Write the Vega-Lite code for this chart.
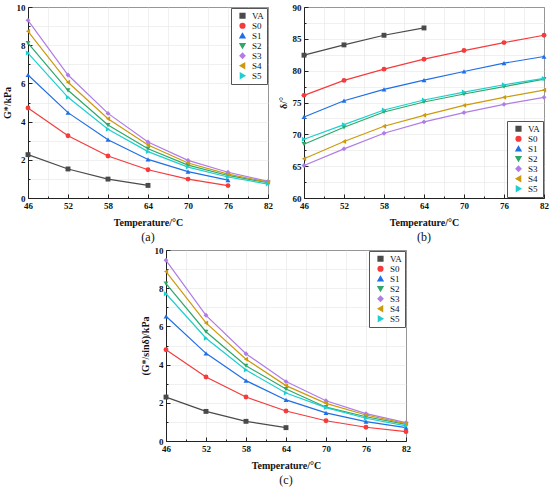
{
  "$schema": "https://vega.github.io/schema/vega-lite/v6.json",
  "background": "white",
  "padding": {"left": 1, "top": 2, "right": 0, "bottom": 0},
  "datasets": {
    "rows": [
      {"Temperature": 46, "Sample": "VA", "G": 2.27, "Delta": 82.43, "GS": 2.30},
      {"Temperature": 52, "Sample": "VA", "G": 1.52, "Delta": 84.05, "GS": 1.55},
      {"Temperature": 58, "Sample": "VA", "G": 0.99, "Delta": 85.56, "GS": 1.03},
      {"Temperature": 64, "Sample": "VA", "G": 0.66, "Delta": 86.71, "GS": 0.70},
      {"Temperature": 46, "Sample": "S0", "G": 4.71, "Delta": 76.12, "GS": 4.78},
      {"Temperature": 52, "Sample": "S0", "G": 3.26, "Delta": 78.47, "GS": 3.35},
      {"Temperature": 58, "Sample": "S0", "G": 2.20, "Delta": 80.24, "GS": 2.30},
      {"Temperature": 64, "Sample": "S0", "G": 1.48, "Delta": 81.80, "GS": 1.57},
      {"Temperature": 70, "Sample": "S0", "G": 0.99, "Delta": 83.16, "GS": 1.06},
      {"Temperature": 76, "Sample": "S0", "G": 0.65, "Delta": 84.41, "GS": 0.72},
      {"Temperature": 82, "Sample": "S0", "G": null, "Delta": 85.56, "GS": 0.49},
      {"Temperature": 46, "Sample": "S1", "G": 6.44, "Delta": 72.73, "GS": 6.53},
      {"Temperature": 52, "Sample": "S1", "G": 4.47, "Delta": 75.28, "GS": 4.59},
      {"Temperature": 58, "Sample": "S1", "G": 3.05, "Delta": 77.06, "GS": 3.16},
      {"Temperature": 64, "Sample": "S1", "G": 2.02, "Delta": 78.52, "GS": 2.15},
      {"Temperature": 70, "Sample": "S1", "G": 1.38, "Delta": 79.87, "GS": 1.47},
      {"Temperature": 76, "Sample": "S1", "G": 0.94, "Delta": 81.18, "GS": 1.01},
      {"Temperature": 82, "Sample": "S1", "G": null, "Delta": 82.22, "GS": 0.70},
      {"Temperature": 46, "Sample": "S2", "G": 8.11, "Delta": 68.45, "GS": 8.24},
      {"Temperature": 52, "Sample": "S2", "G": 5.64, "Delta": 71.11, "GS": 5.72},
      {"Temperature": 58, "Sample": "S2", "G": 3.82, "Delta": 73.51, "GS": 3.94},
      {"Temperature": 64, "Sample": "S2", "G": 2.58, "Delta": 75.08, "GS": 2.72},
      {"Temperature": 70, "Sample": "S2", "G": 1.72, "Delta": 76.33, "GS": 1.77},
      {"Temperature": 76, "Sample": "S2", "G": 1.18, "Delta": 77.48, "GS": 1.27},
      {"Temperature": 82, "Sample": "S2", "G": 0.80, "Delta": 78.68, "GS": 0.87},
      {"Temperature": 46, "Sample": "S3", "G": 9.30, "Delta": 65.11, "GS": 9.46},
      {"Temperature": 52, "Sample": "S3", "G": 6.44, "Delta": 67.72, "GS": 6.58},
      {"Temperature": 58, "Sample": "S3", "G": 4.43, "Delta": 70.17, "GS": 4.57},
      {"Temperature": 64, "Sample": "S3", "G": 2.93, "Delta": 71.95, "GS": 3.11},
      {"Temperature": 70, "Sample": "S3", "G": 1.97, "Delta": 73.41, "GS": 2.11},
      {"Temperature": 76, "Sample": "S3", "G": 1.35, "Delta": 74.71, "GS": 1.43},
      {"Temperature": 82, "Sample": "S3", "G": 0.87, "Delta": 75.81, "GS": 0.96},
      {"Temperature": 46, "Sample": "S4", "G": 8.73, "Delta": 66.16, "GS": 8.87},
      {"Temperature": 52, "Sample": "S4", "G": 6.06, "Delta": 68.87, "GS": 6.18},
      {"Temperature": 58, "Sample": "S4", "G": 4.15, "Delta": 71.27, "GS": 4.28},
      {"Temperature": 64, "Sample": "S4", "G": 2.77, "Delta": 72.99, "GS": 2.90},
      {"Temperature": 70, "Sample": "S4", "G": 1.83, "Delta": 74.55, "GS": 1.97},
      {"Temperature": 76, "Sample": "S4", "G": 1.25, "Delta": 75.81, "GS": 1.36},
      {"Temperature": 82, "Sample": "S4", "G": 0.83, "Delta": 76.95, "GS": 0.91},
      {"Temperature": 46, "Sample": "S5", "G": 7.59, "Delta": 69.23, "GS": 7.71},
      {"Temperature": 52, "Sample": "S5", "G": 5.27, "Delta": 71.53, "GS": 5.38},
      {"Temperature": 58, "Sample": "S5", "G": 3.60, "Delta": 73.82, "GS": 3.72},
      {"Temperature": 64, "Sample": "S5", "G": 2.43, "Delta": 75.39, "GS": 2.51},
      {"Temperature": 70, "Sample": "S5", "G": 1.62, "Delta": 76.64, "GS": 1.75},
      {"Temperature": 76, "Sample": "S5", "G": 1.10, "Delta": 77.79, "GS": 1.19},
      {"Temperature": 82, "Sample": "S5", "G": 0.73, "Delta": 78.78, "GS": 0.79}
    ]
  },
  "spacing": 1,
  "center": true,
  "resolve": {
    "scale": {"color": "independent", "shape": "independent"},
    "legend": {"color": "independent", "shape": "independent"}
  },
  "vconcat": [
    {
      "spacing": 4,
      "resolve": {
        "scale": {"color": "independent", "shape": "independent"},
        "legend": {"color": "independent", "shape": "independent"}
      },
      "hconcat": [
        {
          "width": 240,
          "height": 191,
          "data": {"name": "rows"},
          "title": {"text": "(a)", "orient": "bottom"},
          "mark": {"type": "line", "strokeWidth": 1.2, "point": {"filled": true, "size": 24, "opacity": 1}},
          "encoding": {
            "x": {
              "field": "Temperature", "type": "quantitative", "title": "Temperature/°C",
              "scale": {"domain": [46, 82], "nice": false},
              "axis": {
                "values": [46, 49, 52, 55, 58, 61, 64, 67, 70, 73, 76, 79, 82],
                "labelExpr": "(datum.value - 46) % 6 == 0 ? datum.label : ''",
                "tickSize": {"condition": {"test": "(datum.value - 46) % 6 == 0", "value": -4}, "value": -2}
              }
            },
            "y": {
              "field": "G", "type": "quantitative", "title": "G*/kPa",
              "scale": {"domain": [0, 10], "nice": false},
              "axis": {
                "values": [0, 1, 2, 3, 4, 5, 6, 7, 8, 9, 10],
                "labelExpr": "datum.value % 2 == 0 ? datum.label : ''",
                "tickSize": {"condition": {"test": "datum.value % 2 == 0", "value": -4}, "value": -2}
              }
            },
            "color": {
              "field": "Sample", "type": "nominal", "title": null,
              "scale": {"domain": ["VA", "S0", "S1", "S2", "S3", "S4", "S5"], "range": ["#4a4a4a", "#f53b3b", "#1f6fe6", "#2ea86a", "#b07ce6", "#cc9a0a", "#1ecfcf"]},
              "legend": {"orient": "top-right"}
            },
            "shape": {
              "field": "Sample", "type": "nominal", "title": null,
              "scale": {"domain": ["VA", "S0", "S1", "S2", "S3", "S4", "S5"], "range": ["square", "circle", "triangle-up", "triangle-down", "diamond", "triangle-left", "triangle-right"]},
              "legend": {"orient": "top-right"}
            }
          }
        },
        {
          "width": 240,
          "height": 191,
          "data": {"name": "rows"},
          "title": {"text": "(b)", "orient": "bottom"},
          "mark": {"type": "line", "strokeWidth": 1.2, "point": {"filled": true, "size": 24, "opacity": 1}},
          "encoding": {
            "x": {
              "field": "Temperature", "type": "quantitative", "title": "Temperature/°C",
              "scale": {"domain": [46, 82], "nice": false},
              "axis": {
                "values": [46, 49, 52, 55, 58, 61, 64, 67, 70, 73, 76, 79, 82],
                "labelExpr": "(datum.value - 46) % 6 == 0 ? datum.label : ''",
                "tickSize": {"condition": {"test": "(datum.value - 46) % 6 == 0", "value": -4}, "value": -2}
              }
            },
            "y": {
              "field": "Delta", "type": "quantitative", "title": "δ/°",
              "scale": {"domain": [60, 90], "nice": false},
              "axis": {
                "values": [60, 62.5, 65, 67.5, 70, 72.5, 75, 77.5, 80, 82.5, 85, 87.5, 90],
                "labelExpr": "datum.value % 5 == 0 ? datum.label : ''",
                "tickSize": {"condition": {"test": "datum.value % 5 == 0", "value": -4}, "value": -2}
              }
            },
            "color": {
              "field": "Sample", "type": "nominal", "title": null,
              "scale": {"domain": ["VA", "S0", "S1", "S2", "S3", "S4", "S5"], "range": ["#4a4a4a", "#f53b3b", "#1f6fe6", "#2ea86a", "#b07ce6", "#cc9a0a", "#1ecfcf"]},
              "legend": {"orient": "bottom-right"}
            },
            "shape": {
              "field": "Sample", "type": "nominal", "title": null,
              "scale": {"domain": ["VA", "S0", "S1", "S2", "S3", "S4", "S5"], "range": ["square", "circle", "triangle-up", "triangle-down", "diamond", "triangle-left", "triangle-right"]},
              "legend": {"orient": "bottom-right"}
            }
          }
        }
      ]
    },
    {
      "width": 240,
      "height": 191,
      "data": {"name": "rows"},
      "title": {"text": "(c)", "orient": "bottom"},
      "mark": {"type": "line", "strokeWidth": 1.2, "point": {"filled": true, "size": 24, "opacity": 1}},
      "encoding": {
        "x": {
          "field": "Temperature", "type": "quantitative", "title": "Temperature/°C",
          "scale": {"domain": [46, 82], "nice": false},
          "axis": {
            "values": [46, 49, 52, 55, 58, 61, 64, 67, 70, 73, 76, 79, 82],
            "labelExpr": "(datum.value - 46) % 6 == 0 ? datum.label : ''",
            "tickSize": {"condition": {"test": "(datum.value - 46) % 6 == 0", "value": -4}, "value": -2}
          }
        },
        "y": {
          "field": "GS", "type": "quantitative", "title": "(G*/sinδ)/kPa",
          "scale": {"domain": [0, 10], "nice": false},
          "axis": {
            "values": [0, 1, 2, 3, 4, 5, 6, 7, 8, 9, 10],
            "labelExpr": "datum.value % 2 == 0 ? datum.label : ''",
            "tickSize": {"condition": {"test": "datum.value % 2 == 0", "value": -4}, "value": -2}
          }
        },
        "color": {
          "field": "Sample", "type": "nominal", "title": null,
          "scale": {"domain": ["VA", "S0", "S1", "S2", "S3", "S4", "S5"], "range": ["#4a4a4a", "#f53b3b", "#1f6fe6", "#2ea86a", "#b07ce6", "#cc9a0a", "#1ecfcf"]},
          "legend": {"orient": "top-right"}
        },
        "shape": {
          "field": "Sample", "type": "nominal", "title": null,
          "scale": {"domain": ["VA", "S0", "S1", "S2", "S3", "S4", "S5"], "range": ["square", "circle", "triangle-up", "triangle-down", "diamond", "triangle-left", "triangle-right"]},
          "legend": {"orient": "top-right"}
        }
      }
    }
  ],
  "config": {
    "font": "Liberation Serif",
    "view": {"stroke": "#222", "strokeWidth": 1},
    "axis": {
      "labelFont": "Liberation Serif", "labelFontWeight": "bold", "labelFontSize": 9, "labelColor": "#111",
      "titleFont": "Liberation Serif", "titleFontWeight": "bold", "titleFontSize": 10, "titleColor": "#111",
      "domainColor": "#222", "tickColor": "#222", "grid": true, "gridColor": "#e6e6e6", "gridWidth": 0.6,
      "labelPadding": 7, "titlePadding": 4
    },
    "axisX": {"labelFlush": false, "titlePadding": 7},
    "legend": {
      "labelFont": "Liberation Serif", "labelFontSize": 9, "labelColor": "#111",
      "strokeColor": "#555", "fillColor": "white", "padding": 3, "offset": 1,
      "symbolSize": 22, "rowPadding": 0, "labelOffset": 5, "cornerRadius": 0, "symbolOffset": 4,
      "clipHeight": 9.5
    },
    "title": {"font": "Liberation Serif", "fontSize": 12, "fontWeight": "normal", "color": "#111", "offset": 5}
  }
}
